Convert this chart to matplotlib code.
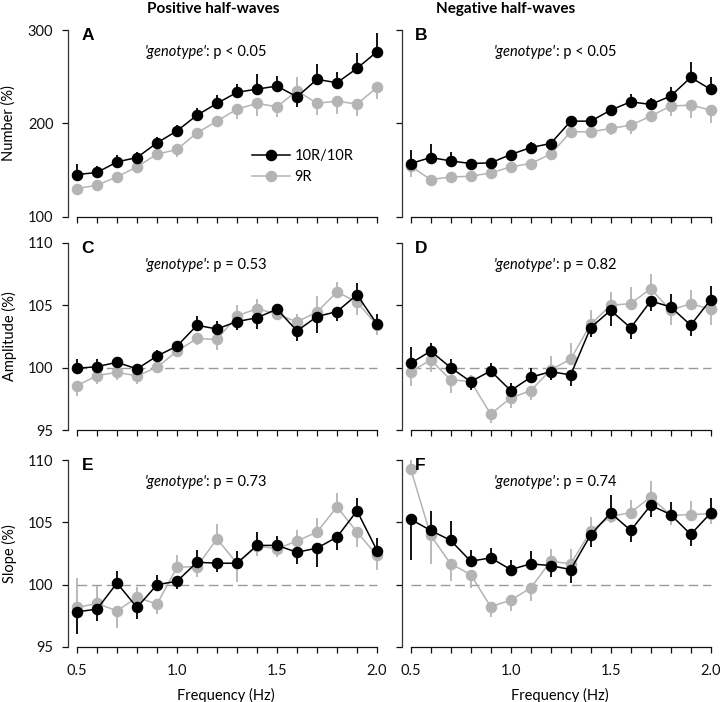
import matplotlib
matplotlib.use("Agg")
import matplotlib.pyplot as plt
import numpy as np
from matplotlib.lines import Line2D
from matplotlib.offsetbox import TextArea, HPacker, AnchoredOffsetbox

plt.rcParams['font.family'] = ['Lato', 'DejaVu Sans']

# frequencies (Hz)
freq = np.array([0.5, 0.6, 0.7, 0.8, 0.9, 1.0, 1.1, 1.2, 1.3, 1.4, 1.5, 1.6, 1.7, 1.8, 1.9, 2.0])

# Number (%) - positive half-waves
num_pos_10r = [145.4, 147.6, 158.9, 163.6, 179.3, 192.1, 208.9, 221.5, 233.3, 236.8, 240.0, 228.5, 247.2, 243.6, 259.0, 276.8]
num_pos_10r_err = [11, 7, 7, 6, 6, 6, 8, 9, 9, 16, 11, 11, 16, 12, 16, 20]
num_pos_9r = [130.4, 134.0, 142.9, 153.6, 167.2, 172.2, 190.0, 202.5, 215.4, 221.5, 217.9, 235.0, 221.5, 224.0, 220.7, 238.6]
num_pos_9r_err = [7, 6, 6, 6, 5, 8, 6, 6, 11, 14, 11, 15, 12, 14, 13, 12]

# Number (%) - negative half-waves
num_neg_10r = [157.2, 163.6, 160.0, 157.2, 157.9, 166.8, 174.3, 178.6, 202.5, 202.5, 214.3, 223.2, 220.4, 229.3, 249.3, 236.5]
num_neg_10r_err = [14, 14, 10, 5, 5, 5, 6, 5, 6, 5, 6, 8, 7, 10, 16, 13]
num_neg_9r = [154.3, 140.0, 142.8, 143.6, 147.1, 153.6, 157.2, 167.2, 191.1, 191.1, 194.7, 198.2, 207.9, 218.6, 219.7, 214.3]
num_neg_9r_err = [11, 7, 6, 5, 5, 5, 5, 6, 5, 5, 7, 9, 6, 11, 14, 14]

# Amplitude (%)
amp_pos_10r = [99.95, 100.08, 100.43, 99.9, 100.93, 101.73, 103.4, 103.1, 103.7, 104.0, 104.7, 102.95, 104.1, 104.5, 105.85, 103.5]
amp_pos_10r_err = [0.72, 0.6, 0.45, 0.35, 0.5, 0.35, 0.72, 0.67, 0.67, 0.88, 0.37, 0.8, 1.33, 0.72, 0.93, 0.8]
amp_pos_9r = [98.56, 99.36, 99.63, 99.34, 100.03, 101.33, 102.34, 102.26, 104.15, 104.74, 104.29, 103.67, 104.47, 106.07, 105.27, 103.4]
amp_pos_9r_err = [0.8, 0.67, 0.6, 0.67, 0.4, 0.3, 0.53, 0.85, 0.85, 0.8, 0.48, 0.6, 1.25, 0.8, 1.06, 0.8]

amp_neg_10r = [100.35, 101.33, 100.0, 98.88, 99.74, 98.16, 99.23, 99.68, 99.42, 103.22, 104.6, 103.19, 105.35, 104.87, 103.41, 105.46]
amp_neg_10r_err = [1.28, 0.67, 0.7, 0.67, 0.6, 0.6, 0.72, 0.67, 0.93, 0.75, 1.28, 0.93, 0.8, 1.0, 0.88, 1.1]
amp_neg_9r = [99.68, 100.61, 99.02, 98.9, 96.28, 97.56, 98.16, 99.82, 100.69, 103.49, 105.0, 105.14, 106.33, 104.6, 105.14, 104.68]
amp_neg_9r_err = [1.15, 0.93, 1.06, 0.5, 0.72, 0.8, 0.75, 1.12, 1.25, 1.17, 1.06, 1.33, 1.2, 1.2, 1.12, 1.28]

# Slope (%)
slope_pos_10r = [97.82, 98.04, 100.13, 98.17, 100.0, 100.27, 101.8, 101.72, 101.72, 103.15, 103.15, 102.6, 102.93, 103.82, 105.92, 102.74]
slope_pos_10r_err = [1.75, 0.94, 0.94, 0.89, 0.8, 0.62, 1.0, 0.73, 1.02, 1.08, 0.73, 0.94, 1.48, 1.0, 1.0, 1.02]
slope_pos_9r = [98.17, 98.49, 97.9, 98.98, 98.44, 101.4, 101.45, 103.68, 101.7, 103.1, 102.88, 103.5, 104.22, 106.24, 104.22, 102.34]
slope_pos_9r_err = [2.34, 1.42, 1.34, 0.86, 0.8, 0.94, 0.86, 1.16, 1.48, 0.8, 0.67, 0.91, 1.13, 1.08, 1.2, 1.2]

slope_neg_10r = [105.24, 104.35, 103.55, 101.88, 102.15, 101.21, 101.67, 101.53, 101.21, 104.0, 105.75, 104.35, 106.37, 105.62, 104.03, 105.75]
slope_neg_10r_err = [3.25, 1.53, 1.56, 0.91, 0.8, 0.8, 1.02, 0.94, 1.1, 1.0, 1.42, 0.94, 0.94, 1.02, 0.89, 1.24]
slope_neg_9r = [109.27, 103.95, 101.67, 100.81, 98.23, 98.76, 99.73, 101.88, 101.67, 104.3, 105.48, 105.78, 107.04, 105.56, 105.62, 105.7]
slope_neg_9r_err = [0.73, 2.28, 1.34, 1.08, 0.86, 0.91, 1.02, 1.0, 1.21, 1.13, 0.5, 1.05, 1.29, 0.8, 1.1, 0.8]

col_titles = ["Positive half-waves", "Negative half-waves"]
row_labels = ["Number (%)", "Amplitude (%)", "Slope (%)"]
panel_letters = [["A", "B"], ["C", "D"], ["E", "F"]]
p_texts = [[": p < 0.05", ": p < 0.05"], [": p = 0.53", ": p = 0.82"], [": p = 0.73", ": p = 0.74"]]

panels = [
    [(num_pos_10r, num_pos_10r_err, num_pos_9r, num_pos_9r_err),
     (num_neg_10r, num_neg_10r_err, num_neg_9r, num_neg_9r_err)],
    [(amp_pos_10r, amp_pos_10r_err, amp_pos_9r, amp_pos_9r_err),
     (amp_neg_10r, amp_neg_10r_err, amp_neg_9r, amp_neg_9r_err)],
    [(slope_pos_10r, slope_pos_10r_err, slope_pos_9r, slope_pos_9r_err),
     (slope_neg_10r, slope_neg_10r_err, slope_neg_9r, slope_neg_9r_err)],
]

BLACK = "#000000"
GRAY = "#b4b4b4"
W, H = 720, 702

fig = plt.figure(figsize=(W / 100, H / 100), dpi=100)

col_left = [68, 401.7]
col_w = 315
row_top = [30, 243, 460]
row_h = 187
ann_x = [0.437, 0.488]

for r in range(3):
    for c in range(2):
        rect = [col_left[c] / W, 1 - (row_top[r] + row_h) / H, col_w / W, row_h / H]
        ax = fig.add_axes(rect)
        a, a_err, b, b_err = [np.array(v, dtype=float) for v in panels[r][c]]

        # one-sided error bars pointing away from the other group
        a_up = a >= b
        a_yerr = [np.where(a_up, 0, a_err), np.where(a_up, a_err, 0)]
        b_yerr = [np.where(a_up, b_err, 0), np.where(a_up, 0, b_err)]

        if r > 0:
            ln, = ax.plot([0.5, 2.0], [100, 100], color="#9a9a9a", lw=1.0, zorder=1)
            ln.set_dashes([7, 3.5])

        ax.errorbar(freq, b, yerr=b_yerr, color=GRAY, ecolor=GRAY, marker="o", ms=7.3,
                    lw=1.1, elinewidth=1.3, capsize=0, zorder=2)
        ax.errorbar(freq, a, yerr=a_yerr, color=BLACK, ecolor=BLACK, marker="o", ms=7.3,
                    lw=1.1, elinewidth=1.3, capsize=0, zorder=3)

        ax.set_xlim(0.455, 2.03)
        if r == 0:
            ax.set_ylim(100, 300)
            ax.set_yticks([100, 200, 300])
        else:
            ax.set_ylim(95, 110)
            ax.set_yticks([95, 100, 105, 110])

        for s in ["top", "right"]:
            ax.spines[s].set_visible(False)
        ax.spines["left"].set_bounds(ax.get_ylim())
        ax.spines["bottom"].set_bounds(0.5, 2.0)
        ax.spines["left"].set_color("#333333")
        ax.spines["bottom"].set_color("#111111")
        ax.spines["left"].set_linewidth(0.9)
        ax.spines["bottom"].set_linewidth(0.9)

        ax.set_xticks(freq)
        if r == 2:
            ax.set_xticklabels(["%.1f" % f if abs(f * 2 - round(f * 2)) < 1e-6 else "" for f in freq])
        else:
            ax.set_xticklabels([])
        if c == 1:
            ax.set_yticklabels([])
        ax.tick_params(axis="both", direction="out", length=4.5, width=0.9, labelsize=10.5,
                       colors="#111111")
        ax.tick_params(axis="y", pad=6)
        ax.tick_params(axis="x", pad=8)

        ax.text(0.043, 0.972, panel_letters[r][c], transform=ax.transAxes, ha="left", va="center",
                fontsize=12.5, fontweight="bold", family="Liberation Sans")

        t1 = TextArea("'genotype'", textprops=dict(fontsize=10.5, style="italic"))
        t2 = TextArea(p_texts[r][c], textprops=dict(fontsize=10.5))
        box = HPacker(children=[t1, t2], align="baseline", pad=0, sep=0)
        ab = AnchoredOffsetbox(loc="center", child=box, pad=0, borderpad=0, frameon=False,
                               bbox_to_anchor=(ann_x[c], 0.885), bbox_transform=ax.transAxes)
        ax.add_artist(ab)

        if r == 0 and c == 0:
            handles = [Line2D([], [], color=BLACK, marker="o", ms=7.3, lw=1.1),
                       Line2D([], [], color=GRAY, marker="o", ms=7.3, lw=1.1)]
            ax.legend(handles, ["10R/10R", "9R"], loc="center left", bbox_to_anchor=(0.585, 0.27),
                      frameon=False, fontsize=10.5, handlelength=2.6, handletextpad=0.3,
                      labelspacing=0.45, borderpad=0, borderaxespad=0)

# column titles
fig.text(213.5 / W, 1 - 9 / H, col_titles[0], ha="center", va="center", fontsize=11, fontweight="bold")
fig.text(505.5 / W, 1 - 9 / H, col_titles[1], ha="center", va="center", fontsize=11, fontweight="bold")

# row labels
for r in range(3):
    fig.text(9 / W, 1 - (row_top[r] + row_h / 2) / H, row_labels[r], rotation=90,
             ha="center", va="center", fontsize=10.5)

# x labels
fig.text(225.7 / W, 1 - 695 / H, "Frequency (Hz)", ha="center", va="center", fontsize=10.5)
fig.text(560 / W, 1 - 695 / H, "Frequency (Hz)", ha="center", va="center", fontsize=10.5)

fig.savefig("out.png", dpi=100)
